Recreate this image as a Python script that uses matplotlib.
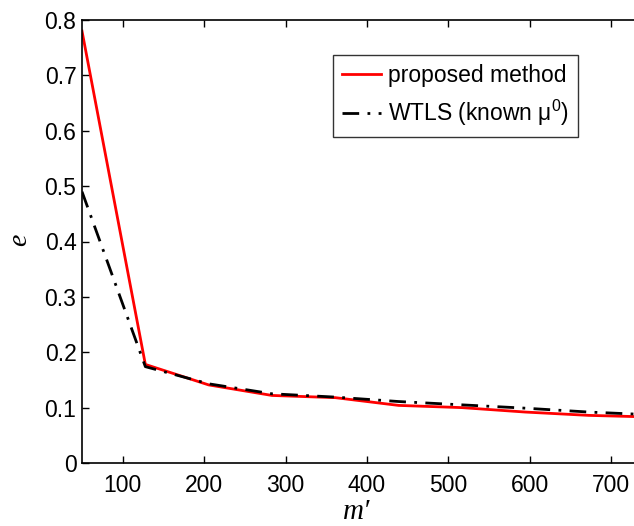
import numpy as np
import matplotlib
matplotlib.use("Agg")
import matplotlib.pyplot as plt

m_prime = [50, 127.8, 205.6, 283.3, 361.1, 438.9, 516.7, 594.4, 672.2, 750]
proposed = [0.78, 0.178, 0.141, 0.122, 0.118, 0.104, 0.100, 0.092, 0.086, 0.083]
wtls = [0.49, 0.174, 0.143, 0.125, 0.119, 0.111, 0.105, 0.099, 0.092, 0.087]
xticks = [100, 200, 300, 400, 500, 600, 700]
yticks = [0, 0.1, 0.2, 0.3, 0.4, 0.5, 0.6, 0.7, 0.8]

plt.rcParams['font.family'] = ['Liberation Sans', 'DejaVu Sans']
plt.rcParams['mathtext.fontset'] = 'custom'
plt.rcParams['mathtext.rm'] = 'Liberation Sans'

fig = plt.figure(figsize=(6.34, 5.26), dpi=100)
ax = fig.add_axes([82/634, 1-463/526, (652-82)/634, (463-20)/526])

ax.plot(m_prime, proposed, color='#ff0000', lw=2, label='proposed method')
ax.plot(m_prime, wtls, color='black', lw=2, ls='-.', dashes=(6, 3, 1, 3), label=r'WTLS (known $\mathregular{\mu^0}$)')

ax.set_xlim(50, 750)
ax.set_ylim(0, 0.8)
ax.set_xticks(xticks)
ax.set_yticks(yticks)
ax.set_yticklabels(['0', '0.1', '0.2', '0.3', '0.4', '0.5', '0.6', '0.7', '0.8'])
ax.tick_params(direction='in', length=5, width=1, labelsize=16.5, top=True, right=True)
ax.tick_params(axis='x', pad=8)
ax.tick_params(axis='y', pad=4)
for s in ax.spines.values():
    s.set_linewidth(1.2)

fig.text(20/634, 1-240/526, 'e', family='Liberation Serif', style='italic', fontsize=20,
         ha='center', va='center', rotation=90)
fig.text(357/634, 1-512/526, 'm\u2032', family='Liberation Serif', style='italic', fontsize=21,
         ha='center', va='center')

leg = ax.legend(loc='upper left', bbox_to_anchor=((333-82)/570, 1-(55-20)/443),
                fontsize=16.5, frameon=True, fancybox=False, edgecolor='black',
                handlelength=1.7, handletextpad=0.3, borderpad=0.4, labelspacing=0.45,
                borderaxespad=0)
leg.get_frame().set_linewidth(1)

fig.savefig('out.png', dpi=100)
